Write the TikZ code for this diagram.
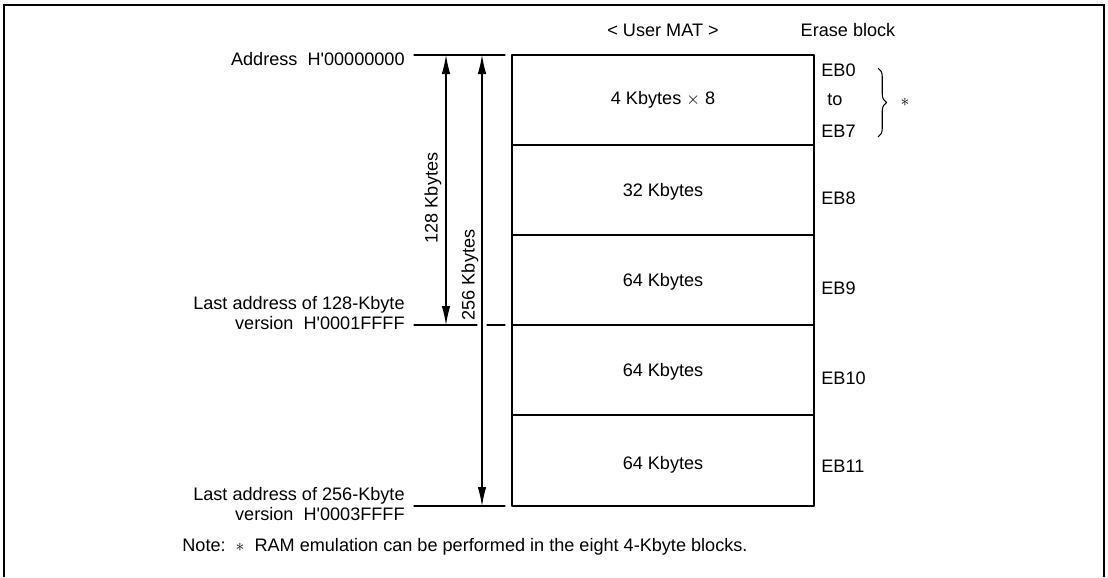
\documentclass[tikz,border=0pt]{standalone}
\usepackage{fontspec}
\setmainfont{Liberation Sans}
\usepackage{tkz-euclide}
\usetikzlibrary{arrows.meta,decorations.pathreplacing}

\begin{document}
\begin{tikzpicture}[font=\fontsize{10.3}{11.6}\selectfont, line width=0.6pt,
    dim/.style={{Latex[length=0.38cm,width=0.17cm]}-{Latex[length=0.38cm,width=0.17cm]}},
    eb/.style={anchor=west}]
    \useasboundingbox (0,0) rectangle (22.16,-11.54);
    \tkzDefPoint(0.08,-11.54){F1}
    \tkzDefPoint(0.08,-0.1){F2}
    \tkzDefPoint(22.08,-0.1){F3}
    \tkzDefPoint(22.08,-11.54){F4}
    \draw[line width=1.2pt] (F1) -- (F2) -- (F3) -- (F4);
    \tkzDefPoint(10.24,-1.1){A}
    \tkzDefPoint(16.28,-1.1){B}
    \tkzDefPoint(16.28,-10.12){C}
    \tkzDefPoint(10.24,-10.12){D}
    \tkzDrawPolygon[line width=0.8pt](A,B,C,D)
    \tkzDefPoint(10.24,-2.9){L1} \tkzDefPoint(16.28,-2.9){R1}
    \tkzDefPoint(10.24,-4.7){L2} \tkzDefPoint(16.28,-4.7){R2}
    \tkzDefPoint(10.24,-6.5){L3} \tkzDefPoint(16.28,-6.5){R3}
    \tkzDefPoint(10.24,-8.3){L4} \tkzDefPoint(16.28,-8.3){R4}
    \tkzDrawSegments[line width=0.6pt](L1,R1 L2,R2 L3,R3 L4,R4)
    \tkzDefPoint(8.28,-1.1){Ta}   \tkzDefPoint(10.1,-1.1){Tb}
    \tkzDefPoint(8.28,-6.5){Ma}   \tkzDefPoint(9.54,-6.5){Mb}
    \tkzDefPoint(9.74,-6.5){Mc}   \tkzDefPoint(10.1,-6.5){Md}
    \tkzDefPoint(8.28,-10.12){Ba} \tkzDefPoint(10.1,-10.12){Bb}
    \tkzDrawSegments[line width=0.6pt](Ta,Tb Ma,Mb Mc,Md Ba,Bb)
    \tkzDefPoint(8.92,-1.1){P}  \tkzDefPoint(8.92,-6.5){Q}
    \tkzDefPoint(9.64,-1.1){R}  \tkzDefPoint(9.64,-10.12){S}
    \draw[dim] (P) -- (Q);
    \draw[dim] (R) -- (S);
    \node[rotate=90] (k128) at (8.66,-3.96) {128 Kbytes};
    \node[rotate=90] (k256) at (9.4,-5.5) {256 Kbytes};
    \node[anchor=east] (adr0) at (8.22,-1.18) {Address\ \ H\textquotesingle 00000000};
    \node[anchor=east, align=right] (adr1) at (8.22,-6.26) {Last address of 128-Kbyte\\version\ \ H\textquotesingle 0001FFFF};
    \node[anchor=east, align=right] (adr2) at (8.22,-10.08) {Last address of 256-Kbyte\\version\ \ H\textquotesingle 0003FFFF};
    \node (mat) at (13.26,-0.6) {< User MAT >};
    \node (erase) at (16.96,-0.6) {Erase block};
    \node (b0) at (13.26,-2.0) {4 Kbytes $\times$ 8};
    \node (b1) at (13.26,-3.84) {32 Kbytes};
    \node (b2) at (13.26,-5.64) {64 Kbytes};
    \node (b3) at (13.26,-7.44) {64 Kbytes};
    \node (b4) at (13.26,-9.3) {64 Kbytes};
    \node[eb] (eb0) at (16.3,-1.4) {EB0};
    \node (to) at (16.7,-2.0) {to};
    \node[eb] (eb7) at (16.3,-2.62) {EB7};
    \node[eb] (eb8) at (16.3,-3.96) {EB8};
    \node[eb] (eb9) at (16.3,-5.76) {EB9};
    \node[eb] (eb10) at (16.3,-7.56) {EB10};
    \node[eb] (eb11) at (16.3,-9.32) {EB11};
    \tkzDefPoint(17.56,-1.36){Ct}
    \tkzDefPoint(17.56,-2.74){Cb}
    \draw[decorate, decoration={brace,amplitude=0.17cm}] (Ct) -- (Cb);
    \node (ast) at (18.1,-2.04) {$\ast$};
    \node[anchor=west] (note) at (3.52,-10.94) {Note:\ \ $\ast$\ \ RAM emulation can be performed in the eight 4-Kbyte blocks.};
\end{tikzpicture}
\end{document}
